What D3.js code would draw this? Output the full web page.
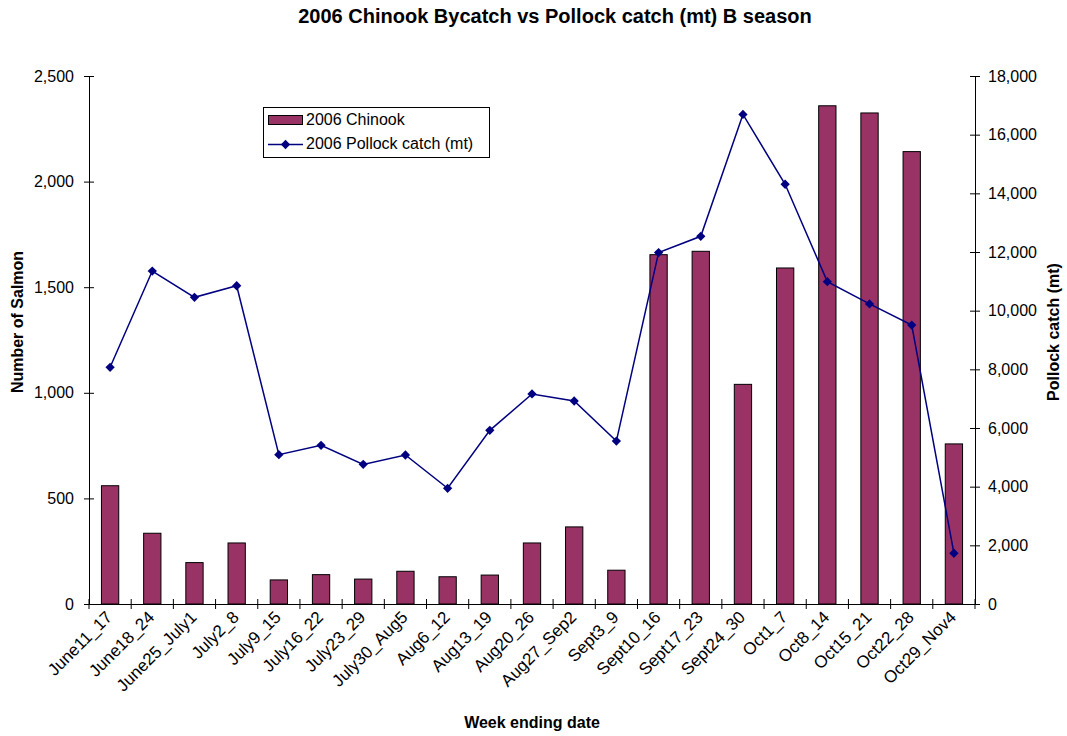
<!DOCTYPE html>
<html>
<head>
<meta charset="utf-8">
<script src="https://cdn.jsdelivr.net/npm/d3@7"></script>
<style>
  html, body { margin: 0; padding: 0; background: #fff; }
  svg { display: block; font-family: "Liberation Sans", Arial, sans-serif; }
</style>
</head>
<body>
<svg id="chart" width="1067" height="736"></svg>
<script>
// Weekly categories of the B season
const weeks = ["June11_17","June18_24","June25_July1","July2_8","July9_15","July16_22",
  "July23_29","July30_Aug5","Aug6_12","Aug13_19","Aug20_26","Aug27_Sep2","Sept3_9",
  "Sept10_16","Sept17_23","Sept24_30","Oct1_7","Oct8_14","Oct15_21","Oct22_28","Oct29_Nov4"];

// Chinook salmon bycatch (number of fish)
const chinook = [560, 335, 196, 289, 114, 139, 118, 155, 129, 137, 289, 365, 160,
  1654, 1670, 1040, 1591, 2359, 2325, 2142, 758];

// Pollock catch (metric tons)
const pollock = [8070, 11350, 10455, 10850, 5090, 5410, 4760, 5080, 3945, 5920, 7160, 6920, 5555,
  11980, 12535, 16690, 14310, 10990, 10230, 9510, 1730];

const leftTicks = [0, 500, 1000, 1500, 2000, 2500];
const rightTicks = [0, 2000, 4000, 6000, 8000, 10000, 12000, 14000, 16000, 18000];

const svg = d3.select("#chart");
const m = { left: 89, right: 975, top: 76, bottom: 604 };
const FS = 16;

const x = d3.scaleBand().domain(weeks).range([m.left, m.right]).paddingInner(0).paddingOuter(0);
const yL = d3.scaleLinear().domain([0, 2500]).range([m.bottom, m.top]);
const yR = d3.scaleLinear().domain([0, 18000]).range([m.bottom, m.top]);
const fmt = d3.format(",");

// Bars
const barW = x.bandwidth() * 0.41;
svg.append("g").selectAll("rect").data(weeks).join("rect")
  .attr("x", (d) => x(d) + x.bandwidth() / 2 - barW / 2)
  .attr("y", (d, i) => yL(chinook[i]))
  .attr("width", barW)
  .attr("height", (d, i) => m.bottom - yL(chinook[i]))
  .attr("fill", "#993366")
  .attr("stroke", "#000")
  .attr("stroke-width", 1);

// Axes
const axisL = d3.axisLeft(yL).tickValues(leftTicks).tickFormat(fmt).tickSize(5).tickPadding(10);
const gL = svg.append("g").attr("transform", `translate(${m.left},0)`).call(axisL);
const axisR = d3.axisRight(yR).tickValues(rightTicks).tickFormat(fmt).tickSize(5).tickPadding(8);
const gR = svg.append("g").attr("transform", `translate(${m.right},0)`).call(axisR);
const axisB = d3.axisBottom(x).tickSize(0).tickFormat("");
const gB = svg.append("g").attr("transform", `translate(0,${m.bottom})`).call(axisB);

[gL, gR, gB].forEach((g) => {
  g.select(".domain").attr("stroke", "#000").attr("stroke-width", 1);
  g.selectAll("text").attr("font-size", FS).attr("fill", "#000")
    .attr("font-family", "Liberation Sans, Arial, sans-serif");
  g.selectAll("line").attr("stroke", "#000");
});
gL.selectAll(".tick line").attr("x1", 5);
gR.selectAll(".tick line").attr("x1", -5);

// Category boundary ticks on the x axis
const bounds = weeks.map((d) => x(d)).concat([m.right]);
svg.append("g").selectAll("line").data(bounds).join("line")
  .attr("x1", (d) => d).attr("x2", (d) => d)
  .attr("y1", m.bottom - 5).attr("y2", m.bottom + 5)
  .attr("stroke", "#000");

// Rotated category labels
svg.append("g").selectAll("text").data(weeks).join("text")
  .attr("transform", (d) => `translate(${x(d) + x.bandwidth() / 2 - 1},${m.bottom + 10}) rotate(-45)`)
  .attr("text-anchor", "end")
  .attr("font-size", 17)
  .attr("dy", "0.35em")
  .text((d) => d);

// Pollock line and diamond markers
const line = d3.line().x((d, i) => x(weeks[i]) + x.bandwidth() / 2).y((d) => yR(d));
svg.append("path").datum(pollock)
  .attr("d", line)
  .attr("fill", "none")
  .attr("stroke", "#000080")
  .attr("stroke-width", 1.5);
const diamond = d3.symbol().type(d3.symbolDiamond2).size(55);
svg.append("g").selectAll("path").data(pollock).join("path")
  .attr("transform", (d, i) => `translate(${x(weeks[i]) + x.bandwidth() / 2},${yR(d)})`)
  .attr("d", diamond)
  .attr("fill", "#000080");

// Titles
svg.append("text").attr("x", 555).attr("y", 23).attr("text-anchor", "middle")
  .attr("font-size", 20).attr("font-weight", "bold")
  .text("2006 Chinook Bycatch vs Pollock catch (mt) B season");
svg.append("text").attr("x", 532).attr("y", 728).attr("text-anchor", "middle")
  .attr("font-size", FS).attr("font-weight", "bold").text("Week ending date");
svg.append("text").attr("transform", "translate(23,322) rotate(-90)").attr("text-anchor", "middle")
  .attr("font-size", FS).attr("font-weight", "bold").text("Number of Salmon");
svg.append("text").attr("transform", "translate(1059,332) rotate(-90)").attr("text-anchor", "middle")
  .attr("font-size", FS).attr("font-weight", "bold").text("Pollock catch (mt)");

// Legend
const lg = svg.append("g");
lg.append("rect").attr("x", 263.5).attr("y", 107.5).attr("width", 226).attr("height", 50)
  .attr("fill", "#fff").attr("stroke", "#000");
lg.append("rect").attr("x", 268.5).attr("y", 115.5).attr("width", 34).attr("height", 9)
  .attr("fill", "#993366").attr("stroke", "#000");
lg.append("text").attr("x", 306).attr("y", 125).attr("font-size", FS).text("2006 Chinook");
lg.append("line").attr("x1", 268).attr("x2", 303).attr("y1", 144.5).attr("y2", 144.5)
  .attr("stroke", "#000080").attr("stroke-width", 1.5);
lg.append("path").attr("transform", "translate(285.5,144.5)").attr("d", diamond).attr("fill", "#000080");
lg.append("text").attr("x", 306).attr("y", 149).attr("font-size", FS).text("2006 Pollock catch (mt)");
</script>
</body>
</html>
